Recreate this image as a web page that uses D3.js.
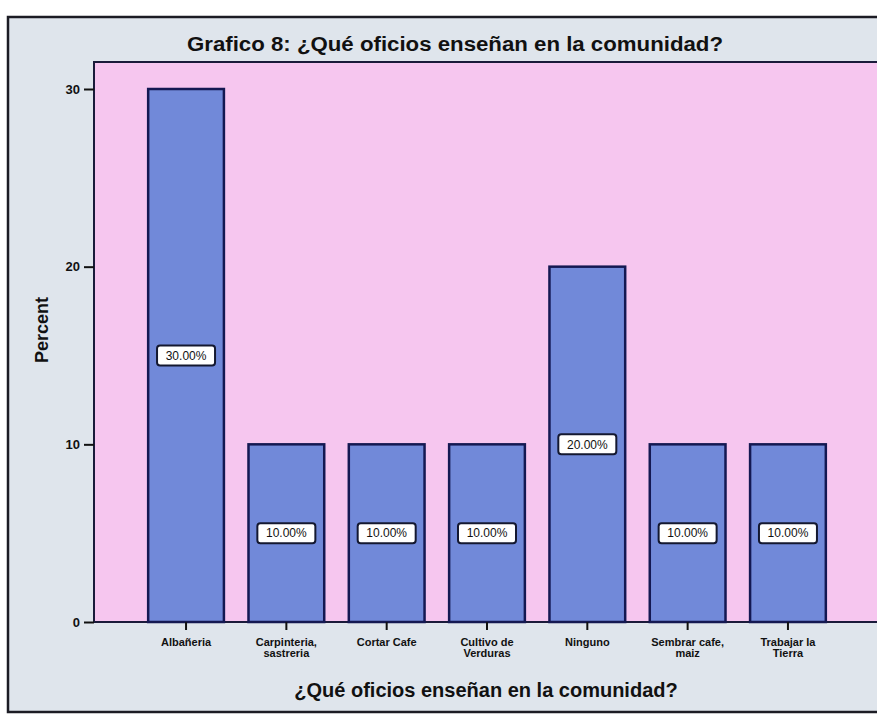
<!DOCTYPE html>
<html>
<head>
<meta charset="utf-8">
<script src="https://cdn.jsdelivr.net/npm/d3@7"></script>
<style>
  body { margin: 0; background: #ffffff; }
  svg text { font-family: "Liberation Sans", Arial, sans-serif; }
</style>
</head>
<body>
<div id="chart"></div>
<script>
// ---- data ----
var categories = ["Albañeria", "Carpinteria,\nsastreria", "Cortar Cafe", "Cultivo de\nVerduras", "Ninguno", "Sembrar cafe,\nmaiz", "Trabajar la\nTierra"]
var percents = [30, 10, 10, 10, 20, 10, 10]
var yTicks = [0, 10, 20, 30]
var chartTitle = "Grafico 8: ¿Qué oficios enseñan en la comunidad?"
var xTitle = "¿Qué oficios enseñan en la comunidad?"
var yTitle = "Percent"

var W = 877, H = 718
var plot = {left: 94, top: 62, right: 880, bottom: 622}

var svg = d3.select("#chart").append("svg")
  .attr("width", W)
  .attr("height", H)

// outer frame (grey-blue background)
svg.append("rect")
  .attr("x", 8).attr("y", 17)
  .attr("width", W + 10).attr("height", 695)
  .attr("fill", "#dfe5ec")
  .attr("stroke", "#1c1c24")
  .attr("stroke-width", 2.5)

// title
svg.append("text")
  .attr("x", 455).attr("y", 51)
  .attr("text-anchor", "middle")
  .attr("textLength", 536)
  .attr("lengthAdjust", "spacingAndGlyphs")
  .style("font-size", "20px")
  .style("font-weight", "bold")
  .attr("fill", "#111")
  .text(chartTitle)

// plot area
svg.append("rect")
  .attr("x", plot.left).attr("y", plot.top)
  .attr("width", plot.right - plot.left).attr("height", plot.bottom - plot.top)
  .attr("fill", "#f6c6ef")
  .attr("stroke", "#1a1a3a")
  .attr("stroke-width", 2)

// scales
var x = d3.scaleBand()
  .domain(categories)
  .range([plot.left, plot.right])
  .paddingInner(0.245)
  .paddingOuter(0.54)

var y = d3.scaleLinear()
  .domain([0, 30])
  .range([plot.bottom, 89])

// bars
svg.selectAll(".bar")
  .data(percents)
  .enter()
  .append("rect")
    .attr("class", "bar")
    .attr("x", function(d, i) { return x(categories[i]) })
    .attr("y", function(d) { return y(d) })
    .attr("width", x.bandwidth())
    .attr("height", function(d) { return y(0) - y(d) })
    .attr("fill", "#7189d9")
    .attr("stroke", "#141852")
    .attr("stroke-width", 2.5)

// value labels in the middle of each bar
var lbl = svg.selectAll(".lbl")
  .data(percents)
  .enter()
  .append("g")
    .attr("class", "lbl")
    .attr("transform", function(d, i) {
      return "translate(" + (x(categories[i]) + x.bandwidth() / 2) + "," + ((y(0) + y(d)) / 2) + ")"
    })
lbl.append("rect")
  .attr("x", -29).attr("y", -10)
  .attr("width", 58).attr("height", 20)
  .attr("rx", 3)
  .attr("fill", "#ffffff")
  .attr("stroke", "#141830")
  .attr("stroke-width", 2)
lbl.append("text")
  .attr("text-anchor", "middle")
  .attr("dy", "0.35em")
  .style("font-size", "12px")
  .attr("fill", "#111")
  .text(function(d) { return d.toFixed(2) + "%" })

// y axis
var yAxis = svg.append("g")
  .attr("transform", "translate(" + plot.left + ",0)")
  .call(d3.axisLeft(y).tickValues(yTicks).tickSize(10).tickPadding(4))
yAxis.select(".domain").remove()
yAxis.selectAll("line").attr("stroke", "#111").attr("stroke-width", 2)
yAxis.selectAll("text")
  .style("font-size", "13px")
  .style("font-weight", "bold")
  .style("font-family", "'Liberation Sans', Arial, sans-serif")
  .attr("fill", "#111")

// x axis
var xAxis = svg.append("g")
  .attr("transform", "translate(0," + plot.bottom + ")")
  .call(d3.axisBottom(x).tickSize(8).tickFormat(""))
xAxis.select(".domain").remove()
xAxis.selectAll("line").attr("stroke", "#111").attr("stroke-width", 2)

// multi-line category labels
svg.selectAll(".xlab")
  .data(categories)
  .enter()
  .append("text")
    .attr("class", "xlab")
    .attr("x", function(d) { return x(d) + x.bandwidth() / 2 })
    .attr("y", plot.bottom + 24)
    .attr("text-anchor", "middle")
    .style("font-size", "11px")
    .style("font-weight", "bold")
    .attr("fill", "#111")
    .selectAll("tspan")
    .data(function(d) { return d.split("\n") })
    .enter()
    .append("tspan")
      .attr("x", function() { var p = d3.select(this.parentNode).datum(); return x(p) + x.bandwidth() / 2 })
      .attr("dy", function(d, i) { return i == 0 ? 0 : 11 })
      .text(function(d) { return d })

// axis titles
svg.append("text")
  .attr("x", 486).attr("y", 697)
  .attr("text-anchor", "middle")
  .style("font-size", "20px")
  .style("font-weight", "bold")
  .attr("fill", "#111")
  .text(xTitle)

svg.append("text")
  .attr("transform", "translate(48,330) rotate(-90)")
  .attr("text-anchor", "middle")
  .style("font-size", "18px")
  .style("font-weight", "bold")
  .attr("fill", "#111")
  .text(yTitle)
</script>
</body>
</html>
